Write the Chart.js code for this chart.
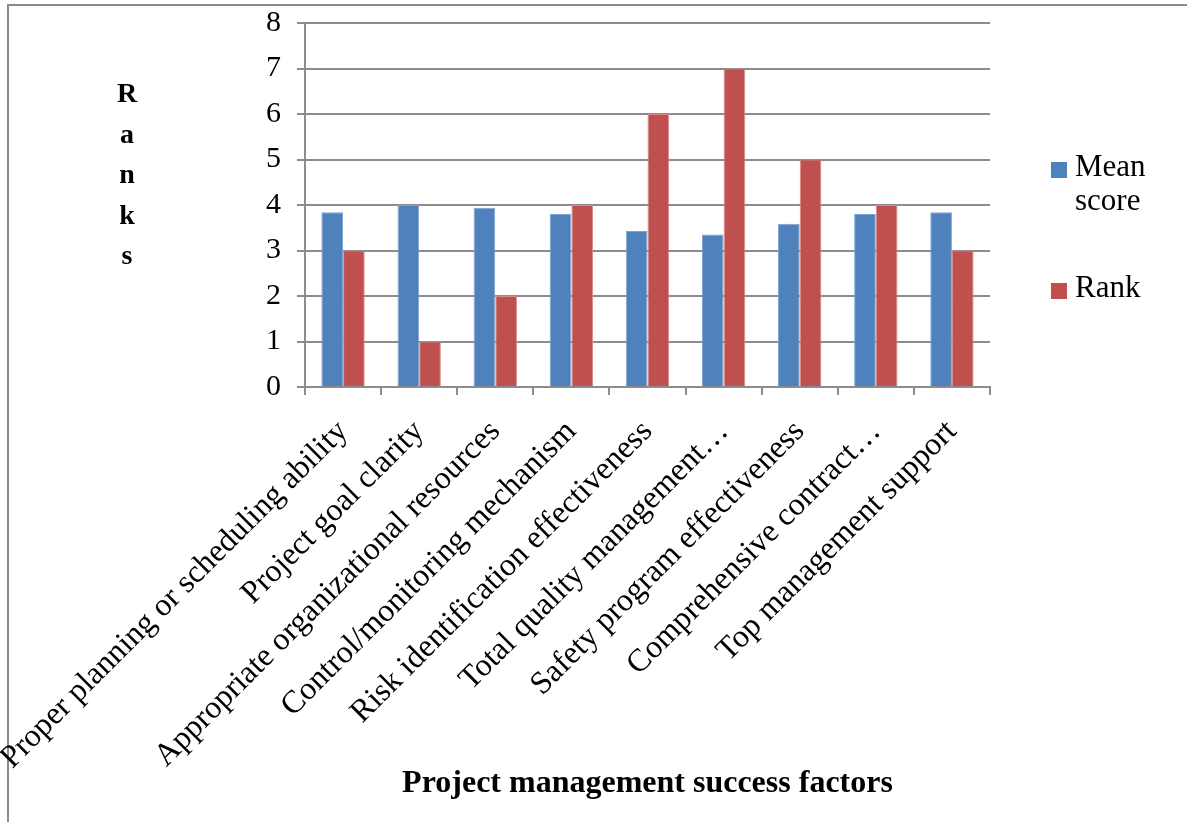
<!DOCTYPE html>
<html>
<head>
<meta charset="utf-8">
<title>Project management success factors</title>
<script src="https://cdn.jsdelivr.net/npm/chart.js@4/dist/chart.umd.min.js"></script>
<style>
    body { margin: 0; background: #fff; }
    #wrap { position: relative; width: 1187px; height: 822px; overflow: hidden; }
    #frame {
        position: absolute; left: 7px; top: 4px; width: 1200px; height: 840px;
        border: 2px solid #8a8a8a; box-sizing: border-box;
    }
    #chart { position: absolute; left: 0; top: 0; }
    #legend {
        position: absolute; left: 1051px; top: 149px;
        font-family: "Liberation Serif", "Times New Roman", serif; font-size: 31px; color: #000;
    }
    .item { position: relative; padding-left: 24px; line-height: 34px; }
    .item .box { position: absolute; left: 0; top: 13px; width: 16px; height: 16px; }
</style>
</head>
<body>
<div id="wrap">
    <div id="frame"></div>
    <canvas id="chart" width="1187" height="822"></canvas>
    <div id="legend">
        <div class="item"><span class="box" style="background:#4f81bd"></span>Mean<br>score</div>
        <div class="item" style="margin-top:53px"><span class="box" style="background:#c0504d"></span>Rank</div>
    </div>
</div>
<script>
const FONT = "'Liberation Serif', 'Times New Roman', serif";

const factors = [
    "Proper planning or scheduling ability",
    "Project goal clarity",
    "Appropriate organizational resources",
    "Control/monitoring mechanism",
    "Risk identification effectiveness",
    "Total quality management…",
    "Safety program effectiveness",
    "Comprehensive contract…",
    "Top management support"
];
const meanScore = [3.84, 4.00, 3.94, 3.80, 3.43, 3.35, 3.59, 3.80, 3.84];
const rank = [3, 1, 2, 4, 6, 7, 5, 4, 3];
const yTitleLetters = ["R", "a", "n", "k", "s"];

const GRID = "#8c8c8c";

// stacked letters for the vertical axis title
const stackedTitle = {
    id: "stackedTitle",
    afterDraw(chart) {
        const ctx = chart.ctx;
        ctx.save();
        ctx.font = "bold 28px " + FONT;
        ctx.fillStyle = "#000";
        ctx.textAlign = "center";
        ctx.textBaseline = "alphabetic";
        yTitleLetters.forEach((ch, i) => {
            ctx.fillText(ch, 127, 102 + i * 40.5);
        });
        ctx.restore();
    }
};

// fixed axis boxes; labels may run past the plot edges
function fixBox(size) {
    return s => {
        if (s.isHorizontal()) s.height = size; else s.width = size;
        s.paddingLeft = 0; s.paddingRight = 0;
        s.paddingTop = 0; s.paddingBottom = 0;
    };
}

document.addEventListener("DOMContentLoaded", renderChart);

function renderChart() {
    new Chart(document.getElementById("chart"), {
        type: "bar",
        data: {
            labels: factors,
            datasets: [
                { label: "Mean score", data: meanScore, backgroundColor: "#4f81bd",
                  borderColor: "#7fa3d0", borderWidth: 1 },
                { label: "Rank", data: rank, backgroundColor: "#c0504d",
                  borderColor: "#d98a88", borderWidth: 1 }
            ]
        },
        options: {
            responsive: false,
            animation: false,
            layout: { padding: { left: 0, top: 23, right: 197, bottom: 0 } },
            datasets: { bar: { categoryPercentage: 0.57, barPercentage: 1 } },
            plugins: {
                legend: { display: false },
                tooltip: { enabled: false }
            },
            scales: {
                x: {
                    afterFit: fixBox(435),
                    grid: { offset: true, drawOnChartArea: false, color: GRID, lineWidth: 2, tickLength: 8 },
                    border: { color: GRID, width: 2 },
                    ticks: {
                        autoSkip: false, minRotation: 45, maxRotation: 45, padding: 18,
                        color: "#000", font: { family: FONT, size: 32 }
                    },
                    title: {
                        display: true, text: "Project management success factors", color: "#000",
                        font: { family: FONT, size: 32, weight: "bold" },
                        padding: { top: 0, bottom: 19 }
                    }
                },
                y: {
                    min: 0, max: 8,
                    afterFit: fixBox(305),
                    grid: { color: GRID, lineWidth: 2, tickLength: 8 },
                    border: { color: GRID, width: 2 },
                    ticks: {
                        stepSize: 1, padding: 16, color: "#000",
                        font: { family: FONT, size: 30 }
                    }
                }
            }
        },
        plugins: [stackedTitle]
    });
}
</script>
</body>
</html>
